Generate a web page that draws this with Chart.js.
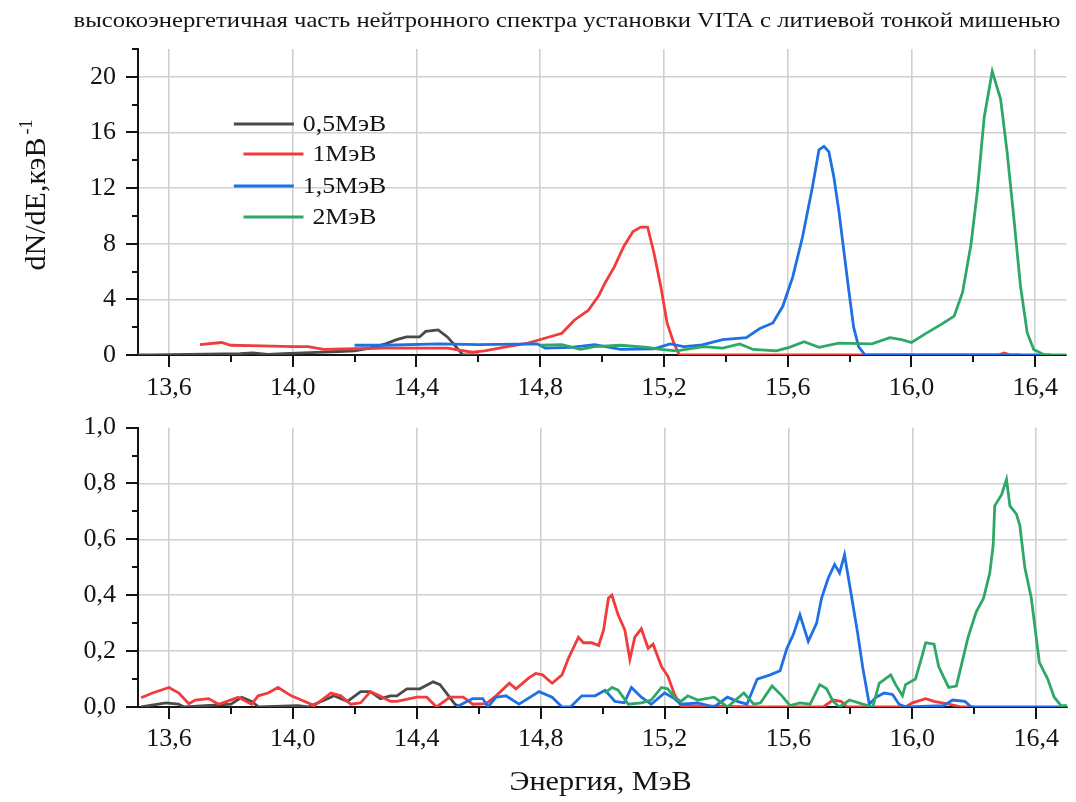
<!DOCTYPE html>
<html lang="ru">
<head>
<meta charset="utf-8">
<title>Нейтронный спектр VITA</title>
<script src="https://cdn.jsdelivr.net/npm/chart.js@4.4.1/dist/chart.umd.min.js"></script>
<style>
  html, body { margin: 0; padding: 0; background: #fff; }
  #wrap { position: relative; width: 1076px; height: 802px; overflow: hidden; }
  canvas { position: absolute; left: 0; }
  #top { top: 0; }
  #bottom { top: 390px; }
</style>
</head>
<body>
<div id="wrap">
  <canvas id="top" width="1076" height="410"></canvas>
  <canvas id="bottom" width="1076" height="412"></canvas>
</div>
<script>
// ---- labels ----
const chartTitle = 'высокоэнергетичная часть нейтронного спектра установки VITA с литиевой тонкой мишенью';
const xAxisTitle = 'Энергия, МэВ';
const yAxisTitle = 'dN/dE,кэВ';
const yAxisTitleSup = '-1';
const seriesNames = ['0,5МэВ', '1МэВ', '1,5МэВ', '2МэВ'];
const seriesColors = ['#4a4a4a', '#f03c3c', '#1f6fe5', '#2ea866'];

// ---- ticks ----
const xMajorTicks = [13.6, 14.0, 14.4, 14.8, 15.2, 15.6, 16.0, 16.4];
const xMinorTicks = [13.8, 14.2, 14.6, 15.0, 15.4, 15.8, 16.2];
const yTopMajorTicks = [0, 4, 8, 12, 16, 20];
const yTopMinorTicks = [2, 6, 10, 14, 18, 22];
const yBottomMajorTicks = [0, 0.2, 0.4, 0.6, 0.8, 1.0];
const yBottomMinorTicks = [0.1, 0.3, 0.5, 0.7, 0.9];

// ---- upper panel: full spectra ----
const topE05 = [13.5, 13.55, 13.83, 13.87, 13.92, 13.97, 14.1, 14.15, 14.2, 14.25, 14.3, 14.336, 14.368, 14.41, 14.43, 14.47, 14.5, 14.52, 14.55, 14.6];
const topV05 = [0, 0, 0.1, 0.15, 0.05, 0.1, 0.2, 0.25, 0.3, 0.5, 0.8, 1.1, 1.3, 1.3, 1.7, 1.8, 1.3, 0.8, 0, 0];

const topE10 = [13.7, 13.77, 13.8, 13.9, 14.0, 14.05, 14.1, 14.2, 14.3, 14.4, 14.5, 14.58, 14.62, 14.68, 14.76, 14.795, 14.87, 14.91, 14.955, 14.99, 15.01, 15.04, 15.07, 15.1, 15.125, 15.147, 15.168, 15.19, 15.21, 15.232, 15.25, 15.5, 16.0, 16.28, 16.3, 16.32, 16.35];
const topV10 = [0.75, 0.9, 0.7, 0.65, 0.6, 0.6, 0.4, 0.45, 0.5, 0.5, 0.5, 0.2, 0.3, 0.55, 0.85, 1.08, 1.56, 2.5, 3.2, 4.3, 5.2, 6.35, 7.8, 8.87, 9.2, 9.2, 7.3, 4.9, 2.3, 0.85, 0, 0, 0, 0, 0.15, 0, 0];

const topE15 = [14.2, 14.3, 14.47, 14.6, 14.79, 14.816, 14.9, 14.976, 15.06, 15.168, 15.22, 15.264, 15.317, 15.39, 15.466, 15.51, 15.552, 15.584, 15.616, 15.648, 15.68, 15.701, 15.717, 15.733, 15.749, 15.765, 15.781, 15.797, 15.813, 15.829, 15.85, 16.0, 16.2, 16.4, 16.45];
const topV15 = [0.7, 0.7, 0.8, 0.75, 0.8, 0.5, 0.55, 0.75, 0.4, 0.45, 0.8, 0.6, 0.7, 1.1, 1.25, 1.9, 2.3, 3.5, 5.6, 8.5, 12.1, 14.75, 15.0, 14.6, 12.8, 10.4, 7.55, 4.7, 2.0, 0.6, 0, 0, 0, 0, 0];

const topE20 = [14.8, 14.87, 14.93, 14.976, 15.06, 15.147, 15.19, 15.24, 15.328, 15.39, 15.445, 15.488, 15.563, 15.605, 15.653, 15.701, 15.765, 15.872, 15.93, 15.968, 16.0, 16.043, 16.096, 16.138, 16.165, 16.192, 16.213, 16.235, 16.261, 16.288, 16.309, 16.331, 16.352, 16.374, 16.395, 16.43, 16.5];
const topV20 = [0.7, 0.75, 0.4, 0.6, 0.7, 0.55, 0.4, 0.3, 0.6, 0.5, 0.8, 0.4, 0.3, 0.55, 0.95, 0.55, 0.85, 0.8, 1.25, 1.1, 0.9, 1.5, 2.2, 2.8, 4.5, 7.9, 11.8, 17.1, 20.4, 18.4, 14.6, 9.8, 5.0, 1.6, 0.4, 0, 0];

// ---- lower panel: background components ----
const botE05 = [13.51, 13.59, 13.63, 13.65, 13.8, 13.835, 13.867, 13.89, 14.016, 14.05, 14.112, 14.133, 14.176, 14.219, 14.25, 14.283, 14.315, 14.336, 14.368, 14.41, 14.453, 14.475, 14.496, 14.523, 14.54];
const botV05 = [0, 0.015, 0.01, 0, 0.01, 0.035, 0.02, 0, 0.005, 0, 0.03, 0.04, 0.02, 0.055, 0.055, 0.03, 0.04, 0.04, 0.065, 0.065, 0.09, 0.08, 0.05, 0.01, 0];

const botE10 = [13.51, 13.547, 13.6, 13.632, 13.664, 13.685, 13.728, 13.76, 13.792, 13.824, 13.867, 13.888, 13.92, 13.952, 13.995, 14.027, 14.069, 14.123, 14.155, 14.187, 14.219, 14.25, 14.28, 14.315, 14.336, 14.4, 14.432, 14.464, 14.507, 14.55, 14.581, 14.624, 14.656, 14.699, 14.72, 14.763, 14.784, 14.806, 14.837, 14.869, 14.89, 14.922, 14.938, 14.965, 14.987, 15.003, 15.019, 15.03, 15.05, 15.072, 15.088, 15.104, 15.125, 15.147, 15.163, 15.19, 15.211, 15.232, 15.253, 15.5, 15.712, 15.744, 15.77, 15.79, 15.978, 16.0, 16.043, 16.07, 16.117, 16.16, 16.2];
const botV10 = [0.033, 0.05, 0.07, 0.05, 0.012, 0.025, 0.03, 0.01, 0.022, 0.035, 0.01, 0.04, 0.05, 0.07, 0.04, 0.025, 0.005, 0.05, 0.04, 0.01, 0.015, 0.055, 0.04, 0.02, 0.02, 0.035, 0.035, 0, 0.035, 0.035, 0.01, 0.012, 0.04, 0.085, 0.065, 0.105, 0.12, 0.115, 0.085, 0.115, 0.175, 0.25, 0.23, 0.23, 0.22, 0.275, 0.39, 0.4, 0.33, 0.275, 0.17, 0.25, 0.28, 0.21, 0.225, 0.145, 0.11, 0.045, 0.005, 0, 0, 0.025, 0.02, 0, 0, 0.015, 0.03, 0.02, 0.01, 0, 0];

const botE15 = [14.528, 14.58, 14.613, 14.63, 14.656, 14.688, 14.73, 14.795, 14.837, 14.869, 14.896, 14.933, 14.976, 15.008, 15.04, 15.07, 15.093, 15.125, 15.157, 15.2, 15.232, 15.253, 15.307, 15.36, 15.403, 15.435, 15.466, 15.499, 15.541, 15.573, 15.595, 15.616, 15.637, 15.664, 15.691, 15.707, 15.728, 15.749, 15.765, 15.781, 15.803, 15.824, 15.84, 15.861, 15.883, 15.909, 15.936, 15.957, 15.98, 16.1, 16.13, 16.17, 16.19, 16.5];
const botV15 = [0, 0.03, 0.03, 0, 0.035, 0.04, 0.01, 0.055, 0.035, 0, 0, 0.04, 0.04, 0.06, 0.02, 0.015, 0.07, 0.035, 0.01, 0.05, 0.03, 0.01, 0.015, 0, 0.035, 0.02, 0.01, 0.1, 0.115, 0.13, 0.21, 0.26, 0.33, 0.235, 0.3, 0.39, 0.46, 0.51, 0.48, 0.545, 0.4, 0.26, 0.14, 0.01, 0.035, 0.05, 0.045, 0.01, 0, 0.005, 0.025, 0.02, 0, 0];

const botE20 = [15.008, 15.03, 15.05, 15.083, 15.125, 15.157, 15.19, 15.21, 15.232, 15.253, 15.275, 15.307, 15.36, 15.403, 15.456, 15.488, 15.51, 15.547, 15.579, 15.605, 15.637, 15.67, 15.701, 15.723, 15.744, 15.765, 15.797, 15.84, 15.872, 15.893, 15.93, 15.946, 15.968, 15.978, 16.01, 16.032, 16.043, 16.07, 16.085, 16.117, 16.142, 16.154, 16.18, 16.206, 16.23, 16.25, 16.261, 16.266, 16.288, 16.304, 16.315, 16.336, 16.347, 16.363, 16.384, 16.41, 16.437, 16.458, 16.48, 16.5];
const botV20 = [0.05, 0.07, 0.06, 0.01, 0.015, 0.025, 0.07, 0.065, 0.035, 0.02, 0.04, 0.025, 0.035, 0, 0.05, 0.01, 0.015, 0.075, 0.04, 0.005, 0.015, 0.01, 0.08, 0.065, 0.02, 0, 0.025, 0.01, 0, 0.085, 0.115, 0.08, 0.04, 0.08, 0.1, 0.185, 0.23, 0.225, 0.145, 0.07, 0.075, 0.13, 0.25, 0.34, 0.39, 0.48, 0.58, 0.72, 0.76, 0.815, 0.72, 0.69, 0.65, 0.5, 0.39, 0.16, 0.1, 0.035, 0.005, 0.005];

// ---- helpers ----
const SERIF = '"Liberation Serif", "Times New Roman", serif';
const TEXT = '#141414';
const GRID = '#cfcfcf';
const TEXT_STRETCH = 1.12;
const comma = (v, d) => v.toFixed(d).replace('.', ',');
const pts = (xs, ys) => xs.map((x, i) => ({ x, y: ys[i] }));

function makeDatasets(pairs) {
  return pairs.map(([xs, ys], i) => ({
    label: seriesNames[i],
    data: pts(xs, ys),
    borderColor: seriesColors[i],
    backgroundColor: seriesColors[i],
    borderWidth: 2.8,
    pointRadius: 0,
    tension: 0,
    fill: false,
    order: 3 - i
  }));
}

function drawStretched(ctx, text, x, y, font, align, baseline) {
  ctx.save();
  ctx.font = font;
  ctx.textBaseline = baseline || 'alphabetic';
  const w = ctx.measureText(text).width * TEXT_STRETCH;
  let left = x;
  if (align === 'center') left = x - w / 2;
  else if (align === 'right') left = x - w;
  ctx.translate(left, y);
  ctx.scale(TEXT_STRETCH, 1);
  ctx.textAlign = 'left';
  ctx.fillText(text, 0, 0);
  ctx.restore();
  return w;
}

// Outward axis tick marks (major and minor)
function axisTicks(xMajor, xMinor, yMajor, yMinor) {
  return {
    id: 'axisTicks',
    afterDraw(chart) {
      const { ctx } = chart;
      const xs = chart.scales.x, ys = chart.scales.y;
      const ax = chart.chartArea.left, ay = chart.chartArea.bottom;
      ctx.save();
      ctx.strokeStyle = TEXT;
      ctx.lineWidth = 2;
      ctx.beginPath();
      xMajor.forEach(v => { const p = Math.round(xs.getPixelForValue(v)); ctx.moveTo(p, ay); ctx.lineTo(p, ay + 12); });
      xMinor.forEach(v => { const p = Math.round(xs.getPixelForValue(v)); ctx.moveTo(p, ay); ctx.lineTo(p, ay + 7); });
      yMajor.forEach(v => { const p = Math.round(ys.getPixelForValue(v)); ctx.moveTo(ax, p); ctx.lineTo(ax - 12, p); });
      yMinor.forEach(v => { const p = Math.round(ys.getPixelForValue(v)); ctx.moveTo(ax, p); ctx.lineTo(ax - 6, p); });
      ctx.stroke();
      ctx.restore();
    }
  };
}

// Title, rotated y caption with superscript and the legend box
const upperDecor = {
  id: 'upperDecor',
  afterDraw(chart) {
    const { ctx } = chart;
    ctx.save();
    ctx.fillStyle = TEXT;
    drawStretched(ctx, chartTitle, 567, 27, '22px ' + SERIF, 'center');

    // y caption
    const mainFont = '30px ' + SERIF, supFont = '18px ' + SERIF;
    ctx.font = mainFont;
    const wMain = ctx.measureText(yAxisTitle).width;
    ctx.font = supFont;
    const wSup = ctx.measureText(yAxisTitleSup).width;
    const total = wMain + 3 + wSup;
    const cy = (chart.chartArea.top + chart.chartArea.bottom) / 2 - 7;
    ctx.translate(45, cy + total / 2);
    ctx.rotate(-Math.PI / 2);
    ctx.textAlign = 'left';
    ctx.textBaseline = 'alphabetic';
    ctx.font = mainFont;
    ctx.fillText(yAxisTitle, 0, 0);
    ctx.font = supFont;
    ctx.fillText(yAxisTitleSup, wMain + 3, -13);
    ctx.restore();

    // legend
    ctx.save();
    const rows = [124, 154, 186, 217];
    const cx = 310;
    chart.data.datasets.forEach((ds, i) => {
      ctx.font = '23px ' + SERIF;
      const tw = ctx.measureText(ds.label).width * TEXT_STRETCH;
      const tot = 60 + 9 + tw;
      const x0 = cx - tot / 2;
      ctx.strokeStyle = ds.borderColor;
      ctx.lineWidth = 3;
      ctx.beginPath();
      ctx.moveTo(x0, rows[i]);
      ctx.lineTo(x0 + 60, rows[i]);
      ctx.stroke();
      ctx.fillStyle = TEXT;
      drawStretched(ctx, ds.label, x0 + 69, rows[i] + 1, '23px ' + SERIF, 'left', 'middle');
    });
    ctx.restore();
  }
};

const lowerDecor = {
  id: 'lowerDecor',
  afterDraw(chart) {
    const { ctx, chartArea } = chart;
    ctx.save();
    ctx.fillStyle = TEXT;
    drawStretched(ctx, xAxisTitle, (chartArea.left + chartArea.right) / 2 - 2, 393, '27px ' + SERIF, 'center', 'middle');
    ctx.restore();
  }
};

function xScale(padding, height) {
  return {
    type: 'linear',
    min: 13.5,
    max: 16.5,
    afterBuildTicks: s => { s.ticks = xMajorTicks.map(v => ({ value: v })); },
    afterFit: s => { s.height = height; },
    ticks: {
      autoSkip: false,
      maxRotation: 0,
      padding: padding,
      color: TEXT,
      font: { family: SERIF, size: 26 },
      callback: v => comma(v, 1)
    },
    grid: { color: GRID, lineWidth: 1.6, drawTicks: false },
    border: { color: TEXT, width: 2 }
  };
}

function yScale(max, major, digits) {
  return {
    type: 'linear',
    min: 0,
    max: max,
    afterBuildTicks: s => { s.ticks = major.map(v => ({ value: v })); },
    afterFit: s => { s.width = 138; },
    ticks: {
      padding: 22,
      color: TEXT,
      font: { family: SERIF, size: 26 },
      callback: v => comma(v, digits)
    },
    grid: {
      color: ctx => (ctx.tick && ctx.tick.value >= max - 1e-9) ? 'rgba(0,0,0,0)' : GRID,
      lineWidth: 1.6,
      drawTicks: false
    },
    border: { color: TEXT, width: 2 }
  };
}

const baseOptions = (layoutTop) => ({
  responsive: false,
  animation: false,
  devicePixelRatio: 1,
  layout: { padding: { top: layoutTop, right: 0, bottom: 0, left: 0 } },
  plugins: { legend: { display: false }, title: { display: false }, tooltip: { enabled: false } }
});

new Chart(document.getElementById('top'), {
  type: 'line',
  data: { datasets: makeDatasets([[topE05, topV05], [topE10, topV10], [topE15, topV15], [topE20, topV20]]) },
  options: Object.assign(baseOptions(49), {
    scales: { x: xScale(18, 55), y: yScale(22, yTopMajorTicks, 0) }
  }),
  plugins: [axisTicks(xMajorTicks, xMinorTicks, yTopMajorTicks, yTopMinorTicks), upperDecor]
});

new Chart(document.getElementById('bottom'), {
  type: 'line',
  data: { datasets: makeDatasets([[botE05, botV05], [botE10, botV10], [botE15, botV15], [botE20, botV20]]) },
  options: Object.assign(baseOptions(10), {
    scales: { x: xScale(17, 95), y: yScale(1.0, yBottomMajorTicks, 1) }
  }),
  plugins: [axisTicks(xMajorTicks, xMinorTicks, yBottomMajorTicks, yBottomMinorTicks), lowerDecor]
});
</script>
</body>
</html>
